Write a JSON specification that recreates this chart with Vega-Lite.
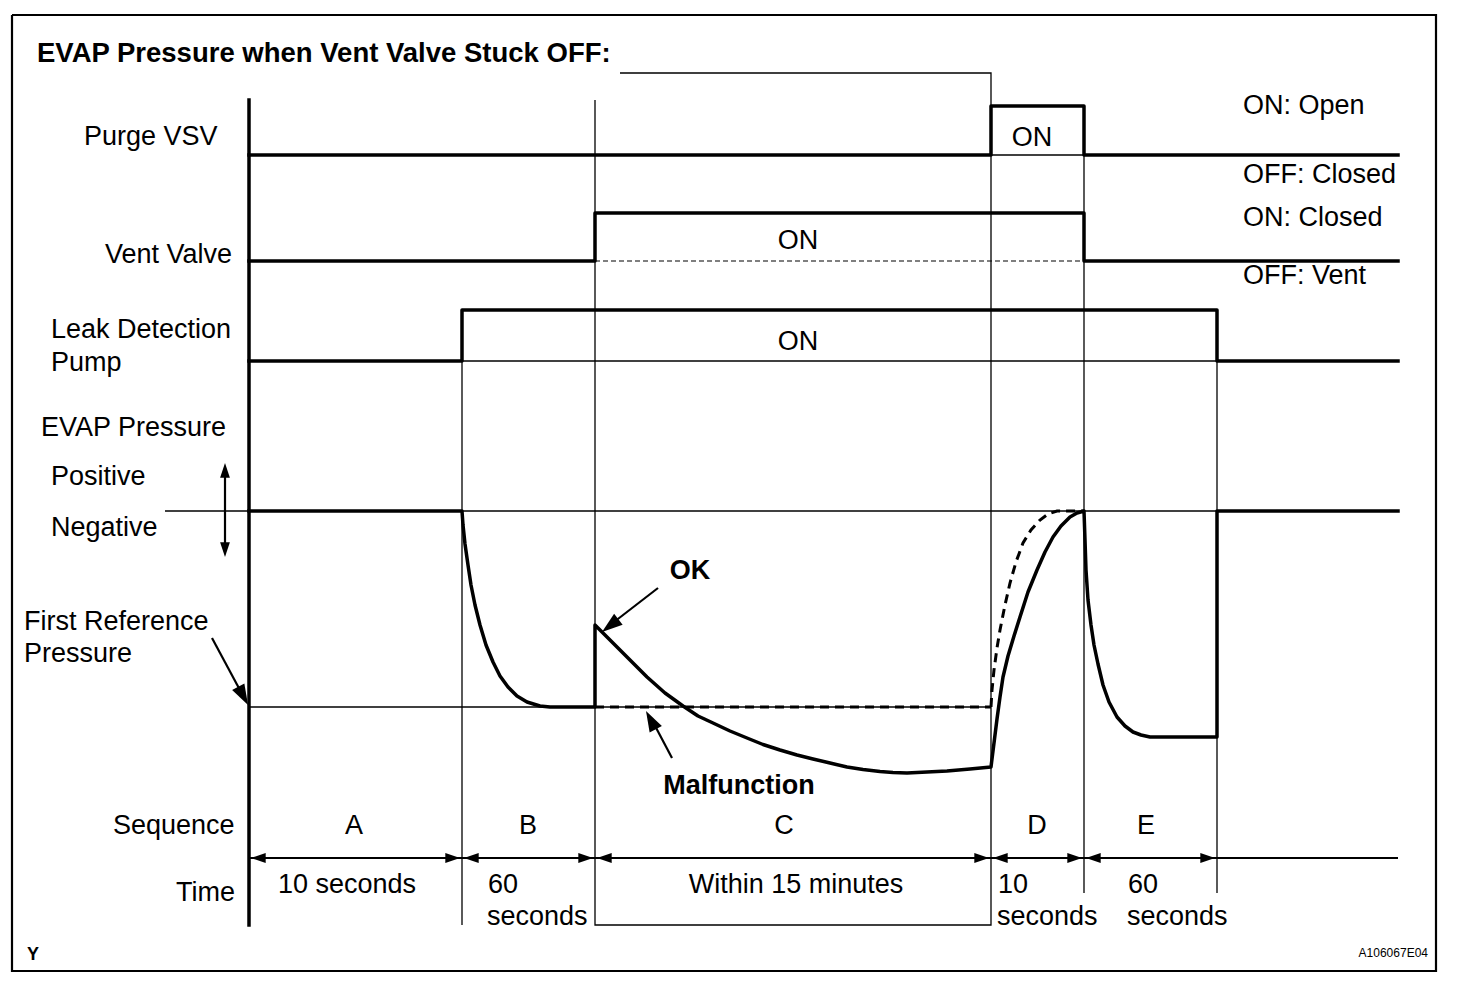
{
  "$schema": "https://vega.github.io/schema/vega-lite/v6.json",
  "width": 1472,
  "height": 994,
  "autosize": {"type": "fit", "contains": "padding"},
  "padding": 0,
  "background": "white",
  "config": {"view": {"stroke": null}},
  "datasets": {
    "guides": [
      {"path": "g1", "i": 0, "x": 462, "y": 310}, {"path": "g1", "i": 1, "x": 462, "y": 925},
      {"path": "g2", "i": 0, "x": 620, "y": 73}, {"path": "g2", "i": 1, "x": 991, "y": 73}, {"path": "g2", "i": 2, "x": 991, "y": 925}, {"path": "g2", "i": 3, "x": 595, "y": 925}, {"path": "g2", "i": 4, "x": 595, "y": 100},
      {"path": "g3", "i": 0, "x": 1084, "y": 106}, {"path": "g3", "i": 1, "x": 1084, "y": 893},
      {"path": "g4", "i": 0, "x": 1217, "y": 310}, {"path": "g4", "i": 1, "x": 1217, "y": 893},
      {"path": "g5", "i": 0, "x": 165, "y": 511}, {"path": "g5", "i": 1, "x": 1398, "y": 511},
      {"path": "g6", "i": 0, "x": 249, "y": 707}, {"path": "g6", "i": 1, "x": 991, "y": 707},
      {"path": "g7", "i": 0, "x": 991, "y": 155}, {"path": "g7", "i": 1, "x": 1084, "y": 155},
      {"path": "g8", "i": 0, "x": 462, "y": 361}, {"path": "g8", "i": 1, "x": 1217, "y": 361}
    ],
    "medium": [
      {"path": "border", "i": 0, "x": 12, "y": 15}, {"path": "border", "i": 1, "x": 1436, "y": 15}, {"path": "border", "i": 2, "x": 1436, "y": 971}, {"path": "border", "i": 3, "x": 12, "y": 971}, {"path": "border", "i": 4, "x": 12, "y": 15},
      {"path": "timeline", "i": 0, "x": 249, "y": 858}, {"path": "timeline", "i": 1, "x": 1398, "y": 858},
      {"path": "evapArrow", "i": 0, "x": 225, "y": 470}, {"path": "evapArrow", "i": 1, "x": 225, "y": 550},
      {"path": "refArrow", "i": 0, "x": 212, "y": 638}, {"path": "refArrow", "i": 1, "x": 241, "y": 692},
      {"path": "okArrow", "i": 0, "x": 658, "y": 588}, {"path": "okArrow", "i": 1, "x": 614, "y": 622},
      {"path": "malArrow", "i": 0, "x": 672, "y": 758}, {"path": "malArrow", "i": 1, "x": 653, "y": 722}
    ],
    "traces": [
      {"path": "axis", "i": 0, "x": 249, "y": 100}, {"path": "axis", "i": 1, "x": 249, "y": 925},
      {"path": "purge", "i": 0, "x": 249, "y": 155}, {"path": "purge", "i": 1, "x": 991, "y": 155}, {"path": "purge", "i": 2, "x": 991, "y": 106}, {"path": "purge", "i": 3, "x": 1084, "y": 106}, {"path": "purge", "i": 4, "x": 1084, "y": 155}, {"path": "purge", "i": 5, "x": 1398, "y": 155},
      {"path": "vent", "i": 0, "x": 249, "y": 261}, {"path": "vent", "i": 1, "x": 595, "y": 261}, {"path": "vent", "i": 2, "x": 595, "y": 213}, {"path": "vent", "i": 3, "x": 1084, "y": 213}, {"path": "vent", "i": 4, "x": 1084, "y": 261}, {"path": "vent", "i": 5, "x": 1398, "y": 261},
      {"path": "pump", "i": 0, "x": 249, "y": 361}, {"path": "pump", "i": 1, "x": 462, "y": 361}, {"path": "pump", "i": 2, "x": 462, "y": 310}, {"path": "pump", "i": 3, "x": 1217, "y": 310}, {"path": "pump", "i": 4, "x": 1217, "y": 361}, {"path": "pump", "i": 5, "x": 1398, "y": 361},
      {"path": "evap", "i": 0, "x": 249, "y": 511}, {"path": "evap", "i": 1, "x": 462, "y": 511}, {"path": "evap", "i": 2, "x": 463, "y": 525}, {"path": "evap", "i": 3, "x": 465, "y": 544}, {"path": "evap", "i": 4, "x": 468, "y": 565}, {"path": "evap", "i": 5, "x": 471, "y": 585}, {"path": "evap", "i": 6, "x": 475, "y": 605}, {"path": "evap", "i": 7, "x": 480, "y": 625}, {"path": "evap", "i": 8, "x": 486, "y": 645}, {"path": "evap", "i": 9, "x": 493, "y": 662}, {"path": "evap", "i": 10, "x": 500, "y": 676}, {"path": "evap", "i": 11, "x": 508, "y": 687}, {"path": "evap", "i": 12, "x": 517, "y": 696}, {"path": "evap", "i": 13, "x": 527, "y": 702}, {"path": "evap", "i": 14, "x": 540, "y": 706}, {"path": "evap", "i": 15, "x": 550, "y": 707}, {"path": "evap", "i": 16, "x": 595, "y": 707}, {"path": "evap", "i": 17, "x": 595, "y": 625},
      {"path": "evap", "i": 18, "x": 604, "y": 634}, {"path": "evap", "i": 19, "x": 613, "y": 643}, {"path": "evap", "i": 20, "x": 630, "y": 660}, {"path": "evap", "i": 21, "x": 647, "y": 677}, {"path": "evap", "i": 22, "x": 665, "y": 693}, {"path": "evap", "i": 23, "x": 683, "y": 706}, {"path": "evap", "i": 24, "x": 698, "y": 716}, {"path": "evap", "i": 25, "x": 713, "y": 723}, {"path": "evap", "i": 26, "x": 730, "y": 731}, {"path": "evap", "i": 27, "x": 747, "y": 738}, {"path": "evap", "i": 28, "x": 763, "y": 744.5}, {"path": "evap", "i": 29, "x": 780, "y": 750}, {"path": "evap", "i": 30, "x": 797, "y": 755}, {"path": "evap", "i": 31, "x": 813, "y": 759}, {"path": "evap", "i": 32, "x": 830, "y": 763}, {"path": "evap", "i": 33, "x": 847, "y": 767}, {"path": "evap", "i": 34, "x": 863, "y": 769.5}, {"path": "evap", "i": 35, "x": 880, "y": 771.5}, {"path": "evap", "i": 36, "x": 893, "y": 772.5}, {"path": "evap", "i": 37, "x": 907, "y": 773}, {"path": "evap", "i": 38, "x": 927, "y": 772}, {"path": "evap", "i": 39, "x": 947, "y": 771}, {"path": "evap", "i": 40, "x": 970, "y": 769}, {"path": "evap", "i": 41, "x": 991, "y": 767},
      {"path": "evap", "i": 42, "x": 994, "y": 743}, {"path": "evap", "i": 43, "x": 997, "y": 719}, {"path": "evap", "i": 44, "x": 1000, "y": 697}, {"path": "evap", "i": 45, "x": 1003, "y": 677}, {"path": "evap", "i": 46, "x": 1008, "y": 656}, {"path": "evap", "i": 47, "x": 1014, "y": 636}, {"path": "evap", "i": 48, "x": 1020, "y": 617}, {"path": "evap", "i": 49, "x": 1028, "y": 592}, {"path": "evap", "i": 50, "x": 1037, "y": 570}, {"path": "evap", "i": 51, "x": 1045, "y": 552}, {"path": "evap", "i": 52, "x": 1053, "y": 537}, {"path": "evap", "i": 53, "x": 1061, "y": 526}, {"path": "evap", "i": 54, "x": 1070, "y": 517}, {"path": "evap", "i": 55, "x": 1077, "y": 513}, {"path": "evap", "i": 56, "x": 1084, "y": 511}, {"path": "evap", "i": 57, "x": 1085, "y": 540}, {"path": "evap", "i": 58, "x": 1086, "y": 570}, {"path": "evap", "i": 59, "x": 1088, "y": 600}, {"path": "evap", "i": 60, "x": 1091, "y": 625}, {"path": "evap", "i": 61, "x": 1094, "y": 645}, {"path": "evap", "i": 62, "x": 1098, "y": 664}, {"path": "evap", "i": 63, "x": 1103, "y": 685}, {"path": "evap", "i": 64, "x": 1109, "y": 702}, {"path": "evap", "i": 65, "x": 1117, "y": 717}, {"path": "evap", "i": 66, "x": 1125, "y": 726}, {"path": "evap", "i": 67, "x": 1133, "y": 732}, {"path": "evap", "i": 68, "x": 1141, "y": 735}, {"path": "evap", "i": 69, "x": 1150, "y": 737}, {"path": "evap", "i": 70, "x": 1217, "y": 737}, {"path": "evap", "i": 71, "x": 1217, "y": 511}, {"path": "evap", "i": 72, "x": 1398, "y": 511}
    ],
    "dashedTraces": [
      {"path": "malfunction", "i": 0, "x": 595, "y": 707}, {"path": "malfunction", "i": 1, "x": 991, "y": 707},
      {"path": "dAlt", "i": 0, "x": 991, "y": 707}, {"path": "dAlt", "i": 1, "x": 992, "y": 690}, {"path": "dAlt", "i": 2, "x": 994, "y": 670}, {"path": "dAlt", "i": 3, "x": 997, "y": 648}, {"path": "dAlt", "i": 4, "x": 1000, "y": 630}, {"path": "dAlt", "i": 5, "x": 1005, "y": 605}, {"path": "dAlt", "i": 6, "x": 1010, "y": 583}, {"path": "dAlt", "i": 7, "x": 1016, "y": 562}, {"path": "dAlt", "i": 8, "x": 1023, "y": 543}, {"path": "dAlt", "i": 9, "x": 1031, "y": 530}, {"path": "dAlt", "i": 10, "x": 1040, "y": 520}, {"path": "dAlt", "i": 11, "x": 1048, "y": 514}, {"path": "dAlt", "i": 12, "x": 1057, "y": 511}, {"path": "dAlt", "i": 13, "x": 1084, "y": 511}
    ],
    "ventDashed": [
      {"path": "ventOn", "i": 0, "x": 595, "y": 261}, {"path": "ventOn", "i": 1, "x": 1084, "y": 261}
    ],
    "timeHeads": [
      {"x": 251, "y": 858, "heading": 270}, {"x": 460, "y": 858, "heading": 90},
      {"x": 464, "y": 858, "heading": 270}, {"x": 593, "y": 858, "heading": 90},
      {"x": 597, "y": 858, "heading": 270}, {"x": 989, "y": 858, "heading": 90},
      {"x": 993, "y": 858, "heading": 270}, {"x": 1082, "y": 858, "heading": 90},
      {"x": 1086, "y": 858, "heading": 270}, {"x": 1215, "y": 858, "heading": 90},
      {"x": 225, "y": 463, "heading": 0}, {"x": 225, "y": 557, "heading": 180}
    ],
    "pointerHeads": [
      {"x": 248, "y": 705, "heading": 152},
      {"x": 602, "y": 632, "heading": 232},
      {"x": 646, "y": 711, "heading": 332}
    ],
    "textLeft": [
      {"label": "Purge VSV", "x": 84, "y": 145},
      {"label": "Vent Valve", "x": 105, "y": 263},
      {"label": "Leak Detection", "x": 51, "y": 338},
      {"label": "Pump", "x": 51, "y": 371},
      {"label": "EVAP Pressure", "x": 41, "y": 436},
      {"label": "Positive", "x": 51, "y": 485},
      {"label": "Negative", "x": 51, "y": 536},
      {"label": "First Reference", "x": 24, "y": 630},
      {"label": "Pressure", "x": 24, "y": 662},
      {"label": "Sequence", "x": 113, "y": 834},
      {"label": "Time", "x": 176, "y": 901},
      {"label": "ON: Open", "x": 1243, "y": 114},
      {"label": "OFF: Closed", "x": 1243, "y": 183},
      {"label": "ON: Closed", "x": 1243, "y": 226},
      {"label": "OFF: Vent", "x": 1243, "y": 284},
      {"label": "60", "x": 488, "y": 893},
      {"label": "seconds", "x": 487, "y": 925},
      {"label": "10", "x": 998, "y": 893},
      {"label": "seconds", "x": 997, "y": 925},
      {"label": "60", "x": 1128, "y": 893},
      {"label": "seconds", "x": 1127, "y": 925}
    ],
    "textCenter": [
      {"label": "ON", "x": 1032, "y": 146},
      {"label": "ON", "x": 798, "y": 249},
      {"label": "ON", "x": 798, "y": 350},
      {"label": "A", "x": 354, "y": 834},
      {"label": "B", "x": 528, "y": 834},
      {"label": "C", "x": 784, "y": 834},
      {"label": "D", "x": 1037, "y": 834},
      {"label": "E", "x": 1146, "y": 834},
      {"label": "10 seconds", "x": 347, "y": 893},
      {"label": "Within 15 minutes", "x": 796, "y": 893}
    ],
    "textBold": [
      {"label": "OK", "x": 690, "y": 579},
      {"label": "Malfunction", "x": 739, "y": 794}
    ],
    "title": [
      {"label": "EVAP Pressure when Vent Valve Stuck OFF:", "x": 37, "y": 62}
    ],
    "corner": [
      {"label": "Y", "x": 27, "y": 960}
    ],
    "code": [
      {"label": "A106067E04", "x": 1428, "y": 957}
    ]
  },
  "encoding": {
    "x": {"field": "x", "type": "quantitative", "scale": {"domain": [0, 1472], "nice": false, "zero": false}, "axis": null},
    "y": {"field": "y", "type": "quantitative", "scale": {"domain": [0, 994], "nice": false, "zero": false, "reverse": true}, "axis": null}
  },
  "layer": [
    {
      "data": {"name": "guides"},
      "mark": {"type": "line", "stroke": "black", "strokeWidth": 1.3, "strokeCap": "butt"},
      "encoding": {"detail": {"field": "path"}, "order": {"field": "i"}}
    },
    {
      "data": {"name": "medium"},
      "mark": {"type": "line", "stroke": "black", "strokeWidth": 2.2, "strokeCap": "butt"},
      "encoding": {"detail": {"field": "path"}, "order": {"field": "i"}}
    },
    {
      "data": {"name": "ventDashed"},
      "mark": {"type": "line", "stroke": "black", "strokeWidth": 1.2, "strokeDash": [5, 3]},
      "encoding": {"detail": {"field": "path"}, "order": {"field": "i"}}
    },
    {
      "data": {"name": "traces"},
      "mark": {"type": "line", "stroke": "black", "strokeWidth": 3.5, "strokeCap": "square", "strokeJoin": "round"},
      "encoding": {"detail": {"field": "path"}, "order": {"field": "i"}}
    },
    {
      "data": {"name": "dashedTraces"},
      "mark": {"type": "line", "stroke": "black", "strokeWidth": 3, "strokeDash": [9, 6]},
      "encoding": {"detail": {"field": "path"}, "order": {"field": "i"}}
    },
    {
      "data": {"name": "timeHeads"},
      "mark": {"type": "point", "shape": "M0,0L-0.8,2.4L0.8,2.4Z", "size": 150, "filled": true, "color": "black", "opacity": 1, "strokeWidth": 0},
      "encoding": {"angle": {"field": "heading", "type": "quantitative", "scale": null}}
    },
    {
      "data": {"name": "pointerHeads"},
      "mark": {"type": "point", "shape": "M0,0L-0.8,2.4L0.8,2.4Z", "size": 300, "filled": true, "color": "black", "opacity": 1, "strokeWidth": 0},
      "encoding": {"angle": {"field": "heading", "type": "quantitative", "scale": null}}
    },
    {
      "data": {"name": "textLeft"},
      "mark": {"type": "text", "font": "Liberation Sans", "fontSize": 27, "align": "left", "baseline": "alphabetic", "color": "black"},
      "encoding": {"text": {"field": "label"}}
    },
    {
      "data": {"name": "textCenter"},
      "mark": {"type": "text", "font": "Liberation Sans", "fontSize": 27, "align": "center", "baseline": "alphabetic", "color": "black"},
      "encoding": {"text": {"field": "label"}}
    },
    {
      "data": {"name": "textBold"},
      "mark": {"type": "text", "font": "Liberation Sans", "fontSize": 27, "fontWeight": "bold", "align": "center", "baseline": "alphabetic", "color": "black"},
      "encoding": {"text": {"field": "label"}}
    },
    {
      "data": {"name": "title"},
      "mark": {"type": "text", "font": "Liberation Sans", "fontSize": 27.5, "fontWeight": "bold", "align": "left", "baseline": "alphabetic", "color": "black"},
      "encoding": {"text": {"field": "label"}}
    },
    {
      "data": {"name": "corner"},
      "mark": {"type": "text", "font": "Liberation Sans", "fontSize": 18, "fontWeight": "bold", "align": "left", "baseline": "alphabetic", "color": "black"},
      "encoding": {"text": {"field": "label"}}
    },
    {
      "data": {"name": "code"},
      "mark": {"type": "text", "font": "Liberation Sans", "fontSize": 12, "align": "right", "baseline": "alphabetic", "color": "black"},
      "encoding": {"text": {"field": "label"}}
    }
  ]
}
